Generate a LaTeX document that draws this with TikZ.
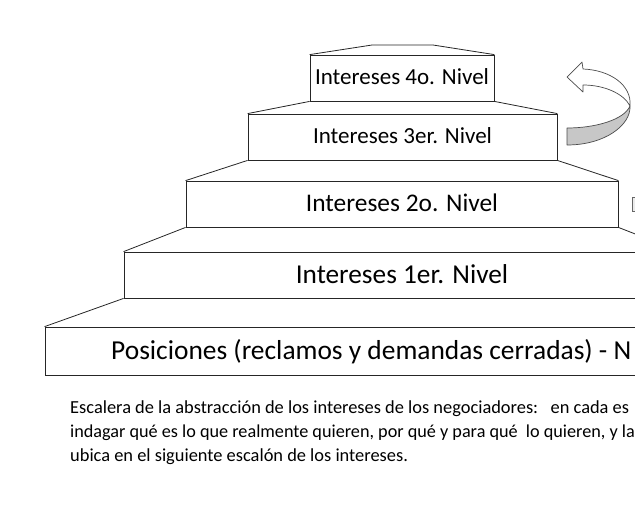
\documentclass[tikz,border=0pt]{standalone}
\usepackage{fontspec}
\setmainfont{Carlito}
\begin{document}
\begin{tikzpicture}[x=1pt,y=-1pt,
  stepbox/.style={draw=black!85,line width=0.8pt,fill=white,inner sep=0pt},
  bevel/.style={draw=black!85,line width=0.8pt},
  lbl/.style={inner sep=0pt,text=black},
  capt/.style={lbl,anchor=base west,font=\fontsize{18.4}{23}\selectfont},
  arrowline/.style={draw=black!70,line width=0.7pt,line join=round}]
\useasboundingbox (0,0) rectangle (635,515);
\clip (0,0) rectangle (635,515);
% boxes
\node[stepbox,minimum width=184pt,minimum height=46pt] (l4) at (402,78) {};
\node[stepbox,minimum width=309pt,minimum height=46pt] (l3) at (402.5,137) {};
\node[stepbox,minimum width=432pt,minimum height=46pt] (l2) at (402,204) {};
\node[stepbox,minimum width=556pt,minimum height=46pt] (l1) at (402,275) {};
\node[stepbox,minimum width=714pt,minimum height=48pt] (l0) at (402,351) {};
% top cap
\coordinate (capl) at (372,45);
\coordinate (capr) at (433,45);
\draw[bevel] (l4.north west) -- (capl) -- (capr) -- (l4.north east);
% bevels
\draw[bevel] (l3.north west) -- (l4.south west);
\draw[bevel] (l3.north east) -- (l4.south east);
\draw[bevel] (l2.north west) -- (l3.south west);
\draw[bevel] (l2.north east) -- (l3.south east);
\draw[bevel] (l1.north west) -- (l2.south west);
\draw[bevel] (l1.north east) -- (l2.south east);
\draw[bevel] (l0.north west) -- (l1.south west);
% labels
\node[lbl,font=\fontsize{23}{26}\selectfont] (t4) at ([yshift=1pt]l4) {Intereses 4o. Nivel};
\node[lbl,font=\fontsize{23}{26}\selectfont] (t3) at ([yshift=1pt]l3) {Intereses 3er. Nivel};
\node[lbl,font=\fontsize{25.4}{28}\selectfont] (t2) at ([yshift=1pt]l2) {Intereses 2o. Nivel};
\node[lbl,font=\fontsize{27.3}{30}\selectfont] (t1) at ([yshift=1pt]l1) {Intereses 1er. Nivel};
\node[lbl,font=\fontsize{27.4}{30}\selectfont,anchor=west] (t0) at (111,352) {Posiciones (reclamos y demandas cerradas) - N};
% curved arrow
\path[arrowline,fill=black!22] (567,128) .. controls (595,128) and (624,120) .. (630,106)
  .. controls (631,125) and (605,145) .. (567,145) -- cycle;
\path[arrowline,fill=white] (630,106) .. controls (632,85) and (610,70) .. (583,69)
  -- (582,62) -- (567,77) -- (583,92) -- (583,85)
  .. controls (605,85) and (624,94) .. (630,106) -- cycle;
\node[draw=black!60,fill=black!8,line width=0.7pt,minimum width=14pt,minimum height=14pt,inner sep=0pt] (side) at (639,204) {};
% caption
\node[capt] (c1) at (70,413) {Escalera de la abstracción de los intereses de los negociadores:\ \ \ en cada es};
\node[capt,font=\fontsize{18.2}{23}\selectfont] (c2) at (70,437) {indagar qué es lo que realmente quieren, por qué y para qué\ \ lo quieren, y la};
\node[capt] (c3) at (70,461) {ubica en el siguiente escalón de los intereses.};
\end{tikzpicture}
\end{document}
